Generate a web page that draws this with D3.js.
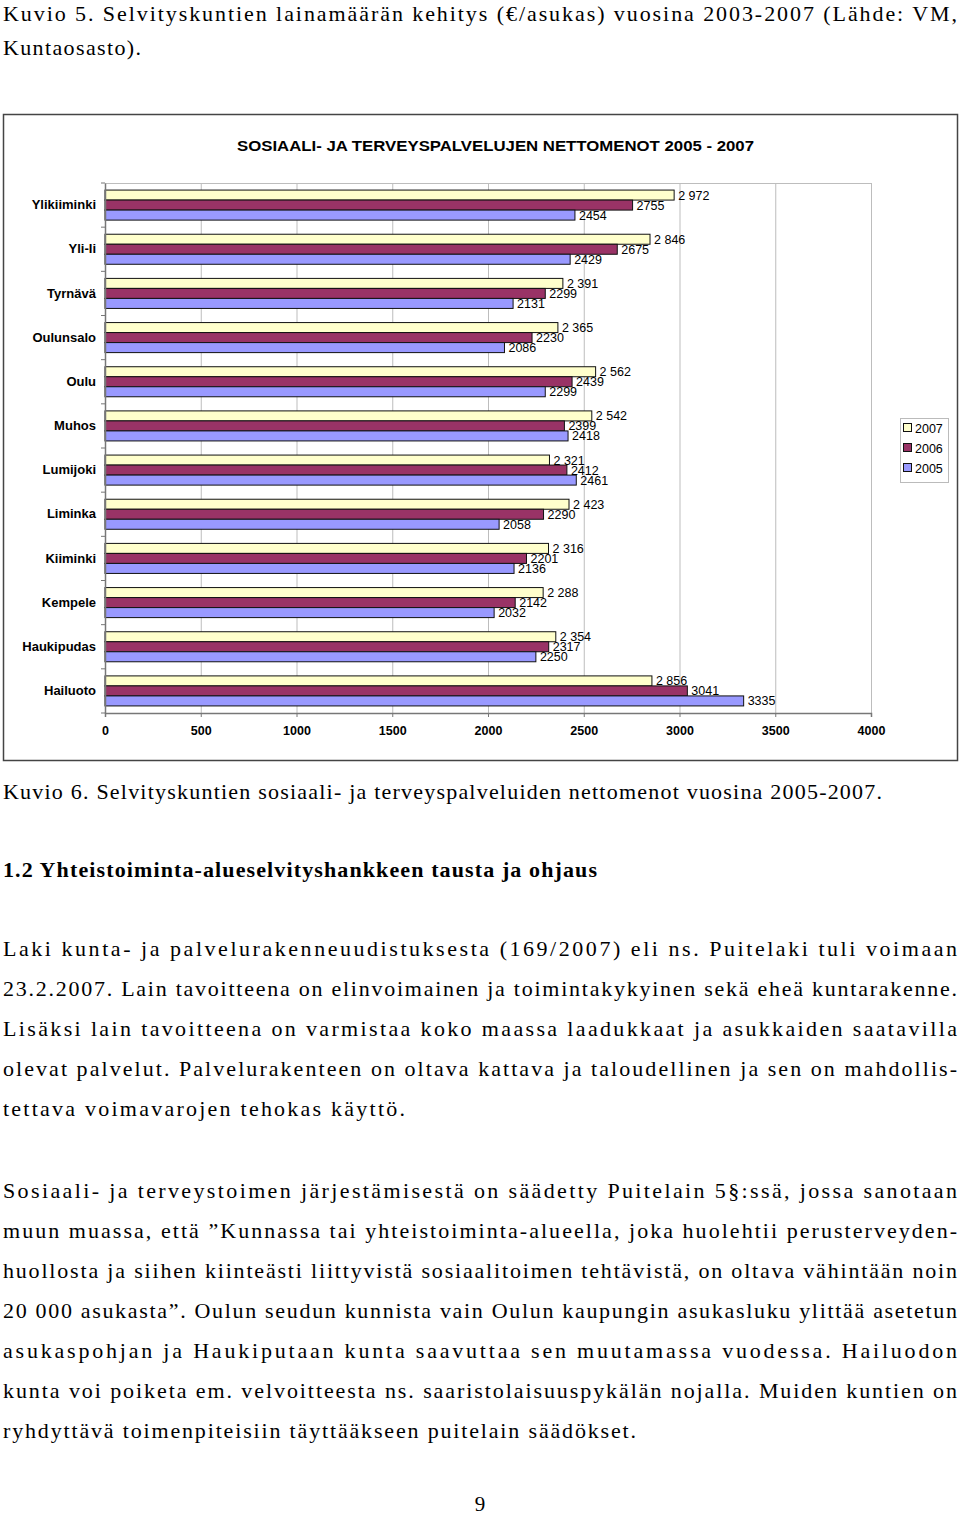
<!DOCTYPE html>
<html>
<head>
<meta charset="utf-8">
<script src="https://cdn.jsdelivr.net/npm/d3@7"></script>
<style>
  body { margin: 0; background: #fff; }
  svg { display: block; }
</style>
</head>
<body>
<div id="page"></div>
<script>
// chart data
var kunnat = ["Ylikiiminki", "Yli-Ii", "Tyrnävä", "Oulunsalo", "Oulu", "Muhos",
              "Lumijoki", "Liminka", "Kiiminki", "Kempele", "Haukipudas", "Hailuoto"];
var vuodet = ["2007", "2006", "2005"];
var v2007 = [2972, 2846, 2391, 2365, 2562, 2542, 2321, 2423, 2316, 2288, 2354, 2856];
var v2006 = [2755, 2675, 2299, 2230, 2439, 2399, 2412, 2290, 2201, 2142, 2317, 3041];
var v2005 = [2454, 2429, 2131, 2086, 2299, 2418, 2461, 2058, 2136, 2032, 2250, 3335];
var xTicks = [0, 500, 1000, 1500, 2000, 2500, 3000, 3500, 4000];
var chartTitle = "SOSIAALI- JA TERVEYSPALVELUJEN NETTOMENOT 2005 - 2007";

// page text
var topLines = ["Kuvio 5. Selvityskuntien lainamäärän kehitys (€/asukas) vuosina 2003-2007 (Lähde: VM,",
                "Kuntaosasto)."];
var caption = "Kuvio 6. Selvityskuntien sosiaali- ja terveyspalveluiden nettomenot vuosina 2005-2007.";
var heading = "1.2 Yhteistoiminta-alueselvityshankkeen tausta ja ohjaus";
var para1 = ["Laki kunta- ja palvelurakenneuudistuksesta (169/2007) eli ns. Puitelaki tuli voimaan",
             "23.2.2007. Lain tavoitteena on elinvoimainen ja toimintakykyinen sekä eheä kuntarakenne.",
             "Lisäksi lain tavoitteena on varmistaa koko maassa laadukkaat ja asukkaiden saatavilla",
             "olevat palvelut. Palvelurakenteen on oltava kattava ja taloudellinen ja sen on mahdollis-",
             "tettava voimavarojen tehokas käyttö."];
var para2 = ["Sosiaali- ja terveystoimen järjestämisestä on säädetty Puitelain 5§:ssä, jossa sanotaan",
             "muun muassa, että ”Kunnassa tai yhteistoiminta-alueella, joka huolehtii perusterveyden-",
             "huollosta ja siihen kiinteästi liittyvistä sosiaalitoimen tehtävistä, on oltava vähintään noin",
             "20 000 asukasta”. Oulun seudun kunnista vain Oulun kaupungin asukasluku ylittää asetetun",
             "asukaspohjan ja Haukiputaan kunta saavuttaa sen muutamassa vuodessa. Hailuodon",
             "kunta voi poiketa em. velvoitteesta ns. saaristolaisuuspykälän nojalla. Muiden kuntien on",
             "ryhdyttävä toimenpiteisiin täyttääkseen puitelain säädökset."];
var pageNo = "9";

var colors = {"2007": "#ffffcc", "2006": "#993366", "2005": "#9999ff"};

var rows = kunnat.map(function(k, i) {
  return {kunta: k, "2007": v2007[i], "2006": v2006[i], "2005": v2005[i]};
});

var W = 960, H = 1516;
var svg = d3.select("#page").append("svg")
    .attr("width", W)
    .attr("height", H);

svg.append("rect").attr("width", W).attr("height", H).attr("fill", "#fff");

var serif = "'Liberation Serif', 'Times New Roman', serif";
var sans = "'Liberation Sans', Arial, sans-serif";

// text helper - stretches a line to a given width like the justified scan
function line(txt, y, w, bold) {
  var t = svg.append("text")
    .attr("x", 3)
    .attr("y", y)
    .attr("font-family", serif)
    .attr("font-size", 22)
    .attr("fill", "#000")
    .text(txt);
  if (bold) t.attr("font-weight", "bold");
  if (w) t.attr("textLength", w).attr("lengthAdjust", "spacing");
  return t;
}

line(topLines[0], 21, 954);
line(topLines[1], 55, 138);

// chart frame
svg.append("rect")
  .attr("x", 3.5).attr("y", 114.5)
  .attr("width", 954).attr("height", 646)
  .attr("fill", "#fff")
  .attr("stroke", "#444")
  .attr("stroke-width", 1.5);

svg.append("text")
  .attr("x", 495.5).attr("y", 151)
  .attr("text-anchor", "middle")
  .attr("font-family", sans)
  .attr("font-weight", "bold")
  .attr("font-size", 14)
  .attr("textLength", 517)
  .attr("lengthAdjust", "spacingAndGlyphs")
  .text(chartTitle);

var x = d3.scaleLinear().domain([0, 4000]).range([105, 871]);
var y = d3.scaleBand().domain(kunnat).range([183, 713])
    .paddingInner(0.32).paddingOuter(0.16);
var ySub = d3.scaleBand().domain(vuodet).range([0, y.bandwidth()]);

// grid
svg.append("g").selectAll("line")
  .data(xTicks.slice(1))
  .enter().append("line")
  .attr("x1", d => x(d) + 0.5).attr("x2", d => x(d) + 0.5)
  .attr("y1", 183).attr("y2", 713)
  .attr("stroke", "#bdbdbd")
  .attr("stroke-width", 1);

svg.append("line")
  .attr("x1", 105).attr("x2", 871)
  .attr("y1", 183.5).attr("y2", 183.5)
  .attr("stroke", "#bdbdbd");

// bars
var groups = svg.append("g").selectAll("g")
  .data(rows)
  .enter().append("g")
  .attr("transform", d => `translate(0,${y(d.kunta)})`);

groups.selectAll("rect")
  .data(d => vuodet.map(v => ({vuosi: v, arvo: d[v]})))
  .enter().append("rect")
  .attr("x", x(0))
  .attr("y", d => ySub(d.vuosi))
  .attr("width", d => x(d.arvo) - x(0))
  .attr("height", ySub.bandwidth())
  .attr("fill", d => colors[d.vuosi])
  .attr("stroke", "#111")
  .attr("stroke-width", 1);

var fi = d3.formatLocale({decimal: ",", thousands: " ", grouping: [3], currency: ["", ""]});
var fmtSpace = fi.format(",d");

groups.selectAll("text")
  .data(d => vuodet.map(v => ({vuosi: v, arvo: d[v]})))
  .enter().append("text")
  .attr("x", d => x(d.arvo) + 4)
  .attr("y", d => ySub(d.vuosi) + ySub.bandwidth() / 2)
  .attr("dy", "0.36em")
  .attr("font-family", sans)
  .attr("font-size", 12.5)
  .attr("fill", "#000")
  .text(d => d.vuosi === "2007" ? fmtSpace(d.arvo) : d.arvo);

// axes
var xAxis = d3.axisBottom(x).tickValues(xTicks).tickFormat(d3.format("d"))
    .tickSize(4).tickPadding(9);
var gx = svg.append("g")
  .attr("transform", "translate(0,713)")
  .call(xAxis);
gx.select(".domain").attr("stroke", "#777").attr("stroke-width", 1.5);
gx.selectAll(".tick line").attr("stroke", "#777");
gx.selectAll("text")
  .attr("font-family", sans)
  .attr("font-weight", "bold")
  .attr("font-size", 12.5)
  .attr("fill", "#000");

var yAxis = d3.axisLeft(y).tickSize(0).tickPadding(9);
var gy = svg.append("g")
  .attr("transform", "translate(105,0)")
  .call(yAxis);
gy.select(".domain").attr("stroke", "#777").attr("stroke-width", 1.5);
gy.selectAll("text")
  .attr("font-family", sans)
  .attr("font-weight", "bold")
  .attr("font-size", 13)
  .attr("fill", "#000");

// category separator ticks on the left axis
var bounds = d3.range(kunnat.length + 1).map(i => 183 + i * y.step());
svg.append("g").selectAll("line")
  .data(bounds)
  .enter().append("line")
  .attr("x1", 101).attr("x2", 105)
  .attr("y1", d => d).attr("y2", d => d)
  .attr("stroke", "#777");

// legend
var lg = svg.append("g");
lg.append("rect")
  .attr("x", 900.5).attr("y", 418.5)
  .attr("width", 48).attr("height", 64)
  .attr("fill", "#fff")
  .attr("stroke", "#bbb");
var li = lg.selectAll("g.item")
  .data(vuodet)
  .enter().append("g")
  .attr("class", "item")
  .attr("transform", (d, i) => `translate(903,${428 + i * 20})`);
li.append("rect")
  .attr("x", 0.5).attr("y", -4.5)
  .attr("width", 8).attr("height", 8)
  .attr("fill", d => colors[d])
  .attr("stroke", "#111");
li.append("text")
  .attr("x", 12).attr("y", 0)
  .attr("dy", "0.36em")
  .attr("font-family", sans)
  .attr("font-size", 12.5)
  .text(d => d);

// text below chart
line(caption, 799, 879);
line(heading, 877, 594, true);
para1.forEach(function(t, i) {
  var last = i === para1.length - 1;
  line(t, 956 + i * 40, last ? 402 : 954);
});
para2.forEach(function(t, i) {
  var last = i === para2.length - 1;
  line(t, 1198 + i * 40, last ? 633 : 954);
});

svg.append("text")
  .attr("x", 480).attr("y", 1511)
  .attr("text-anchor", "middle")
  .attr("font-family", serif)
  .attr("font-size", 21)
  .text(pageNo);
</script>
</body>
</html>
